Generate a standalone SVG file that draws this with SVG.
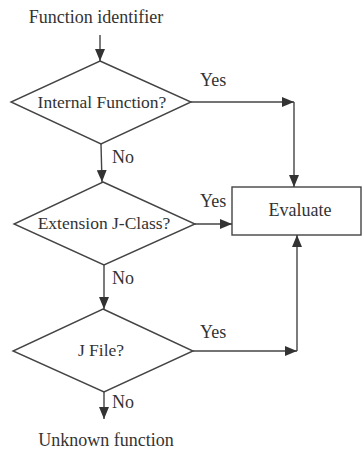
<svg xmlns="http://www.w3.org/2000/svg" width="363" height="450" viewBox="0 0 363 450">
<defs>
<marker id="ah" markerWidth="12" markerHeight="10" refX="12" refY="5" orient="auto" markerUnits="userSpaceOnUse">
<path d="M0,0 L12,5 L0,10 Z" fill="#333"/>
</marker>
<style>
text{font-family:"Liberation Serif","Times New Roman",serif;font-size:18px;fill:#333;text-anchor:middle}
.in{font-size:17.5px}
.shape{fill:#fff;stroke:#444;stroke-width:1.4}
.conn{fill:none;stroke:#444;stroke-width:1.4}
.lbl{text-anchor:start}
</style>
</defs>
<rect width="363" height="450" fill="#fff"/>
<g id="start"><text x="96" y="23">Function identifier</text></g>
<g id="d1"><polygon class="shape" points="100,61 191,102 101,144 11,102"/><text class="in" x="102" y="108">Internal Function?</text></g>
<g id="d2"><polygon class="shape" points="103,182 195,224 104,265 14,224"/><text class="in" x="104" y="229">Extension J-Class?</text></g>
<g id="d3"><polygon class="shape" points="103,309 193,351 104,392 13,351"/><text class="in" x="101" y="356">J File?</text></g>
<g id="eval"><rect class="shape" x="232" y="187" width="129" height="48"/><text x="300" y="216">Evaluate</text></g>
<g id="end"><text x="106" y="446">Unknown function</text></g>
<g id="connectors">
<line class="conn" x1="100" y1="35" x2="100" y2="61" marker-end="url(#ah)"/>
<line class="conn" x1="191" y1="102" x2="294" y2="102" marker-end="url(#ah)"/>
<line class="conn" x1="294" y1="102" x2="294" y2="187" marker-end="url(#ah)"/>
<line class="conn" x1="101" y1="144" x2="102" y2="182" marker-end="url(#ah)"/>
<line class="conn" x1="195" y1="224" x2="232" y2="224" marker-end="url(#ah)"/>
<line class="conn" x1="104" y1="265" x2="104" y2="309" marker-end="url(#ah)"/>
<line class="conn" x1="193" y1="351" x2="297" y2="351" marker-end="url(#ah)"/>
<line class="conn" x1="297" y1="351" x2="297" y2="235" marker-end="url(#ah)"/>
<line class="conn" x1="104" y1="392" x2="104" y2="419" marker-end="url(#ah)"/>
<text class="lbl" x="200" y="86">Yes</text>
<text class="lbl" x="112" y="163">No</text>
<text class="lbl" x="200" y="207">Yes</text>
<text class="lbl" x="112" y="284">No</text>
<text class="lbl" x="200" y="338">Yes</text>
<text class="lbl" x="112" y="408">No</text>
</g>
</svg>
